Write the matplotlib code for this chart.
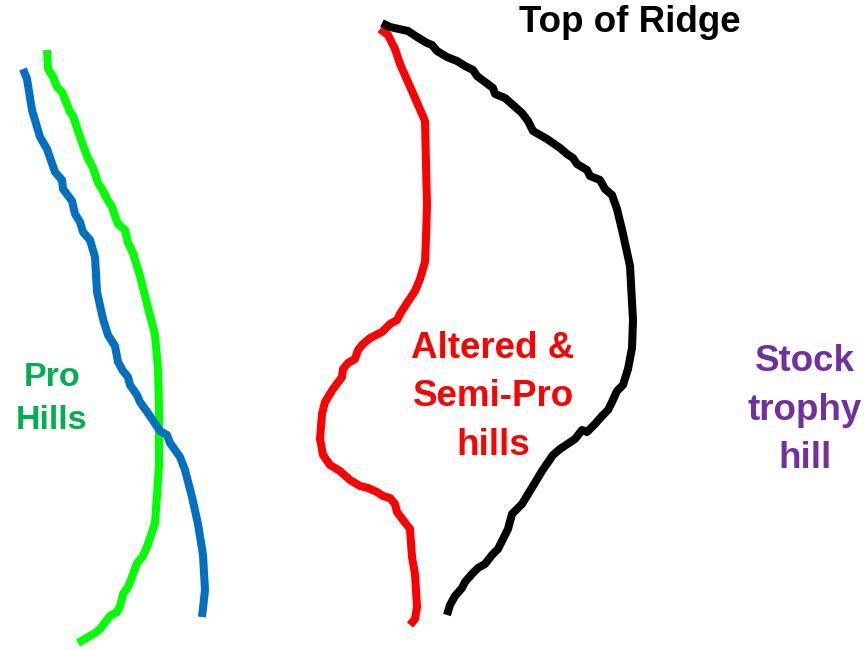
import matplotlib
matplotlib.use('Agg')
import matplotlib.pyplot as plt

plt.rcParams['font.family'] = ['Liberation Sans', 'DejaVu Sans']

# hand-drawn traces in pixel coords (x, y from top)
blue_x = [23, 27, 32, 40, 47, 55, 62, 63, 72, 75, 80, 83, 90, 95, 97, 103, 108, 115, 118, 123,
          128, 130, 137, 140, 150, 160, 167, 170, 180, 185, 192, 198, 203, 205, 202]
blue_y = [69, 79, 110, 137, 149, 172, 180, 189, 201, 214, 222, 232, 240, 257, 292, 319, 335, 346, 362, 371,
          377, 385, 395, 402, 416, 431, 435, 443, 457, 470, 497, 524, 555, 590, 617]

green_x = [47, 48, 53, 57, 62, 70, 73, 80, 87, 93, 98, 102, 107, 112, 115, 118, 125, 128, 133, 140,
           147, 152, 155, 158, 159, 159, 155, 148, 143, 137, 132, 128, 123, 120, 117, 110, 100, 95, 78]
green_y = [50, 69, 77, 87, 92, 112, 116, 137, 156, 168, 183, 189, 199, 207, 216, 224, 230, 243, 253, 276,
           304, 323, 335, 369, 408, 466, 523, 544, 556, 563, 577, 587, 594, 606, 612, 616, 629, 633, 643]

red_x = [380, 388, 395, 400, 408, 415, 425, 426, 427, 426, 425, 420, 415, 407, 400, 397, 390, 382, 370, 363,
         358, 355, 348, 343, 342, 333, 325, 322, 320, 323, 330, 340, 350, 360, 368, 377, 383, 390, 395, 397,
         403, 410, 412, 415, 417, 415, 410]
red_y = [29, 35, 49, 64, 82, 98, 121, 164, 205, 238, 262, 279, 291, 303, 314, 320, 324, 332, 338, 344,
         350, 359, 363, 369, 377, 389, 402, 414, 439, 455, 465, 471, 480, 486, 488, 492, 496, 498, 504, 512,
         520, 529, 557, 574, 607, 619, 625]

black_x = [382, 390, 408, 417, 427, 432, 437, 447, 457, 465, 473, 477, 485, 493, 495, 505, 513, 522, 528, 533,
           547, 560, 567, 573, 577, 587, 590, 600, 605, 612, 617, 623, 630, 633, 632, 628, 623, 617, 612, 608,
           602, 595, 587, 582, 575, 560, 553, 542, 533, 522, 512, 508, 502, 498, 492, 485, 478, 472, 465, 462,
           455, 450, 447]
black_y = [23, 27, 31, 37, 43, 45, 51, 57, 61, 66, 70, 76, 82, 88, 94, 98, 105, 113, 121, 131,
           139, 148, 154, 158, 164, 170, 176, 180, 189, 195, 209, 234, 266, 320, 348, 369, 385, 391, 402, 410,
           416, 424, 432, 430, 439, 449, 455, 471, 486, 504, 514, 529, 541, 549, 555, 564, 568, 574, 582, 588,
           596, 605, 615]

fig = plt.figure(figsize=(8.67, 6.5), dpi=100)
ax = fig.add_axes([0, 0, 1, 1])
ax.set_xlim(0, 867)
ax.set_ylim(650, 0)
ax.axis('off')

for xs, ys, col in [(green_x, green_y, '#00ff00'), (blue_x, blue_y, '#0070c0'),
                    (red_x, red_y, '#ff0000'), (black_x, black_y, '#000000')]:
    ax.plot(xs, ys, color=col, lw=5.8, solid_capstyle='butt', solid_joinstyle='round')

ax.text(630, 22, 'Top of Ridge', color='black', fontsize=26.5, fontweight='bold', ha='center', va='center')
ax.text(52, 399, 'Pro\nHills', color='#00b050', fontsize=24.5, fontweight='bold', ha='center', va='center',
        linespacing=1.5)
ax.text(493, 397, 'Altered &\nSemi-Pro\nhills', color='#ff0000', fontsize=26.5, fontweight='bold',
        ha='center', va='center', linespacing=1.5)
ax.text(805, 410, 'Stock\ntrophy\nhill', color='#7030a0', fontsize=26.5, fontweight='bold',
        ha='center', va='center', linespacing=1.5)

fig.savefig('out.png', dpi=100)
